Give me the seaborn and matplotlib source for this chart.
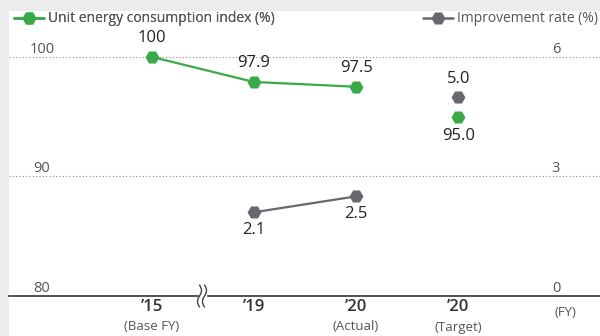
import numpy as np
import pandas as pd
import matplotlib
matplotlib.use("Agg")
import matplotlib.pyplot as plt
import matplotlib.transforms as mtransforms
from matplotlib.lines import Line2D
import seaborn as sns

# ---- data ----
categories = ["\u201915", "\u201919", "\u201920", "\u201920"]
sublabels = ["(Base FY)", "", "(Actual)", "(Target)"]
index_actual = [100.0, 97.9, 97.5]      # FY15, FY19, FY20 actual
index_target = [95.0]                   # FY20 target
rate_actual = [None, 2.1, 2.5]          # improvement rate vs base year
rate_target = [5.0]

left_ticks = [80, 90, 100]
right_ticks = [0, 3, 6]

GREEN = "#3aaa48"
GRAY = "#68686f"
TXT = "#555555"

sns.set_theme(style="white")
plt.rcParams["font.family"] = ["Open Sans", "DejaVu Sans"]

fig = plt.figure(figsize=(6.0, 3.36), dpi=100)
fig.patch.set_facecolor("#ececec")
# white panel behind the chart
fig.add_artist(plt.Rectangle((9 / 600, 0), 1, (336 - 11) / 336,
                             transform=fig.transFigure, facecolor="white",
                             edgecolor="none", zorder=0))

ax = fig.add_axes([9 / 600, 40 / 336, 591 / 600, 285 / 336])
ax.set_facecolor("white")
ax2 = ax.twinx()

ylo, yhi = 80, 100 + 46 / 12
xlo, xhi = (9 - 151.5) / 102.3, (600 - 151.5) / 102.3

pos = np.arange(len(categories))
df_idx = pd.DataFrame({"x": pos[:3], "v": index_actual})
df_rate = pd.DataFrame({"x": pos[:3], "v": rate_actual}).dropna()

mk = dict(marker="H", markersize=10, markeredgewidth=0)
sns.lineplot(data=df_idx, x="x", y="v", ax=ax, color=GREEN, linewidth=1.6,
             markerfacecolor=GREEN, zorder=4, **mk)
sns.lineplot(x=pos[3:], y=index_target, ax=ax, color=GREEN, linewidth=0,
             markerfacecolor=GREEN, zorder=4, **mk)
sns.lineplot(data=df_rate, x="x", y="v", ax=ax2, color=GRAY, linewidth=1.6,
             markerfacecolor=GRAY, zorder=4, **mk)
sns.lineplot(x=pos[3:], y=rate_target, ax=ax2, color=GRAY, linewidth=0,
             markerfacecolor=GRAY, zorder=4, **mk)

ax.set_xlim(xlo, xhi)
ax.set_ylim(ylo, yhi)
ax2.set_ylim((ylo - 80) * 0.3, (yhi - 80) * 0.3)

# value labels
lab = dict(ha="center", fontsize=12, color="#222222", textcoords="offset points")
for x, v in zip(pos[:3], index_actual):
    ax.annotate(f"{v:g}" if v == 100 else f"{v:.1f}", (x, v), xytext=(0, 8),
                va="bottom", **lab)
for x, v in zip(pos[3:], index_target):
    ax.annotate(f"{v:.1f}", (x, v), xytext=(0, -8), va="top", **lab)
for x, v in zip(df_rate["x"], df_rate["v"]):
    ax2.annotate(f"{v:.1f}", (x, v), xytext=(0, -7), va="top", **lab)
for x, v in zip(pos[3:], rate_target):
    ax2.annotate(f"{v:.1f}", (x, v), xytext=(0, 7), va="bottom", **lab)

# grid lines and axis
for t in left_ticks[1:]:
    ax.axhline(t, color="#8a8a8a", linewidth=0.8, linestyle=(0, (1, 2)), zorder=1)
for s in ["top", "right", "left"]:
    ax.spines[s].set_visible(False)
    ax2.spines[s].set_visible(False)
ax2.spines["bottom"].set_visible(False)
ax.spines["bottom"].set_color("#444444")
ax.spines["bottom"].set_linewidth(1.3)

# y tick labels sitting above their lines
ax.set_yticks([])
ax2.set_yticks([])
tl = mtransforms.blended_transform_factory(ax.transAxes, ax.transData)
tr = mtransforms.blended_transform_factory(ax.transAxes, ax2.transData)
for t in left_ticks:
    ax.text((42 - 9) / 591, t, f"{t}", transform=tl, ha="center", va="bottom",
            fontsize=10.5, color=TXT)
for t in right_ticks:
    ax.text((556 - 9) / 591, t, f"{t}", transform=tr, ha="center", va="bottom",
            fontsize=10.5, color=TXT)

# x tick labels
ax.set_xticks(pos)
ax.set_xticklabels(categories, fontsize=12, color="#333333", fontweight="semibold")
ax.tick_params(axis="x", length=0, pad=2)
bx = mtransforms.blended_transform_factory(ax.transData, fig.transFigure)
for x, s in zip(pos, sublabels):
    if s:
        ax.text(x, 9 / 336, s, transform=bx, ha="center", va="center",
                fontsize=9.5, color=TXT)
ax.text((565 - 151.5) / 102.3, 24 / 336, "(FY)", transform=bx, ha="center",
        va="center", fontsize=9.5, color=TXT)
ax.set_xlabel("")
ax.set_ylabel("")
ax2.set_ylabel("")

# axis break mark
bt = mtransforms.blended_transform_factory(ax.transData, fig.transFigure)
xb = (202 - 151.5) / 102.3
tt = np.linspace(-1, 1, 50)
yy = 40 / 336 + tt * 11 / 336
ax.fill_betweenx(yy, xb - 3.5 / 102.3, xb + 3.5 / 102.3, transform=bt,
                 color="white", zorder=5, clip_on=False)
for dx in (-2.5, 2.5):
    xs = xb + (dx + 2.0 * np.sin(tt * np.pi)) / 102.3
    ax.plot(xs, yy, transform=bt, color="#444444", linewidth=1.0, zorder=6,
            clip_on=False)

# legends
h1 = Line2D([], [], color=GREEN, linewidth=1.8, marker="H", markersize=10,
            markerfacecolor=GREEN, markeredgewidth=0)
h2 = Line2D([], [], color=GRAY, linewidth=1.8, marker="H", markersize=10,
            markerfacecolor=GRAY, markeredgewidth=0)
leg1 = fig.legend([h1], ["Unit energy consumption index (%)"], loc="center left",
                  bbox_to_anchor=(8 / 600, 1 - 19 / 336), frameon=False,
                  fontsize=10, handlelength=2.2, handletextpad=0.3,
                  labelcolor=TXT, borderaxespad=0)
leg2 = fig.legend([h2], ["Improvement rate (%)"], loc="center right",
                  bbox_to_anchor=(604 / 600, 1 - 19 / 336), frameon=False,
                  fontsize=10, handlelength=2.2, handletextpad=0.3,
                  labelcolor=TXT, borderaxespad=0)
fig.add_artist(leg1)

fig.savefig("out.png", dpi=100, facecolor=fig.get_facecolor())
